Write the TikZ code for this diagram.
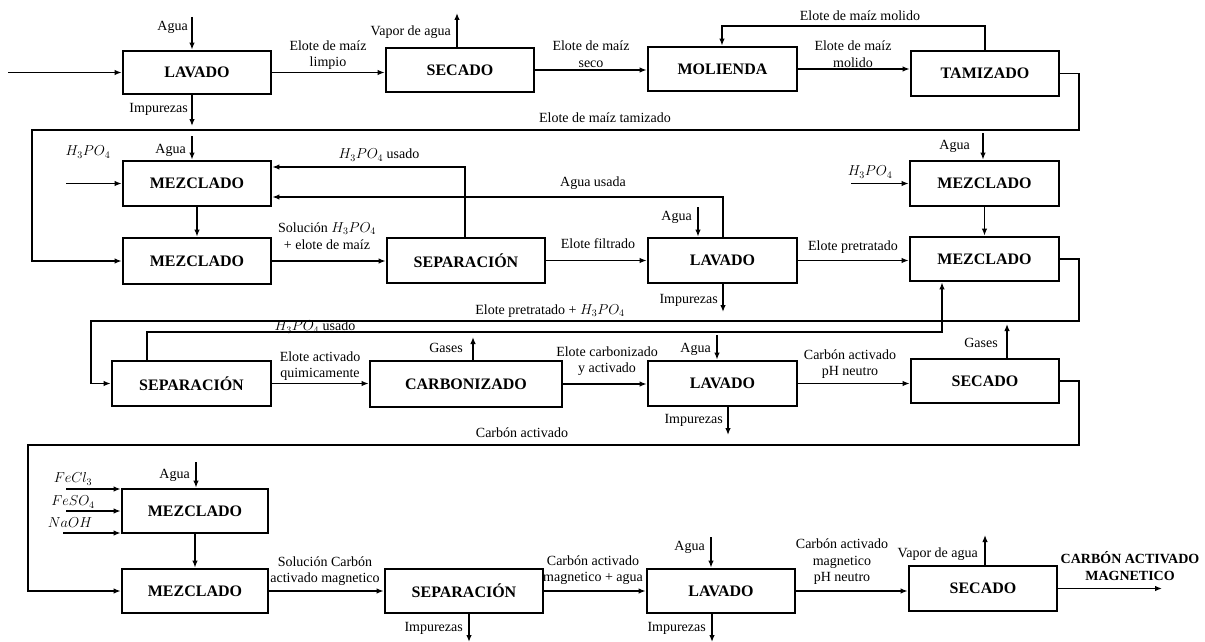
\documentclass[tikz,border=0pt]{standalone}
\usepackage{fontspec}
\setmainfont{Liberation Serif}
\usetikzlibrary{arrows.meta}
\tikzset{
  box/.style={draw, line width=2.8pt, font=\fontsize{16}{18}\selectfont\bfseries, inner sep=0pt},
  lbl/.style={font=\fontsize{14}{16.5}\selectfont, align=center, inner sep=0pt},
  lble/.style={lbl, anchor=east},
  arr/.style={line width=1.3pt, -{Latex[length=7pt,width=5.5pt]}},
}
\begin{document}
\begin{tikzpicture}[x=1pt,y=-1pt]
\useasboundingbox (0,0) rectangle (1205,642);
% boxes
\node[box, minimum width=148pt, minimum height=43pt] (L1) at (197,72.5) {LAVADO};
\node[box, minimum width=148pt, minimum height=44pt] (S1) at (460,70) {SECADO};
\node[box, minimum width=149pt, minimum height=44pt] (MO) at (722.5,69) {MOLIENDA};
\node[box, minimum width=148pt, minimum height=45pt] (TA) at (985,73.5) {TAMIZADO};
\node[box, minimum width=148pt, minimum height=45pt] (MA) at (197,183.5) {MEZCLADO};
\node[box, minimum width=148pt, minimum height=46pt] (MB) at (197,261) {MEZCLADO};
\node[box, minimum width=158pt, minimum height=45pt] (SP1) at (466,260.5) {SEPARACIÓN};
\node[box, minimum width=149pt, minimum height=45pt] (LA2) at (722.5,260.5) {LAVADO};
\node[box, minimum width=149pt, minimum height=45pt] (MC) at (984.5,183.5) {MEZCLADO};
\node[box, minimum width=149pt, minimum height=44pt] (MD) at (984.5,259) {MEZCLADO};
\node[box, minimum width=159pt, minimum height=45pt] (SP2) at (191.5,383.5) {SEPARACIÓN};
\node[box, minimum width=192pt, minimum height=46pt] (CA) at (466,384) {CARBONIZADO};
\node[box, minimum width=149pt, minimum height=45pt] (LA3) at (722.5,383.5) {LAVADO};
\node[box, minimum width=148pt, minimum height=44pt] (SE2) at (985,381) {SECADO};
\node[box, minimum width=146pt, minimum height=44pt] (ME) at (195,511) {MEZCLADO};
\node[box, minimum width=146pt, minimum height=44pt] (MF) at (195,591) {MEZCLADO};
\node[box, minimum width=158pt, minimum height=44pt] (SP3) at (464,591) {SEPARACIÓN};
\node[box, minimum width=148pt, minimum height=44pt] (LA4) at (721,591) {LAVADO};
\node[box, minimum width=148pt, minimum height=45pt] (SE3) at (983,588.5) {SECADO};

% ---------- row 1
\coordinate (in0) at (8,72.5);
\draw[arr] (in0) -- (L1.west);
\coordinate (a1) at (192,17);
\draw[arr] (a1) -- (a1 |- L1.north);
\node[lble] (ta1) at (188,27) {Agua};
\coordinate (i1) at (192,126);
\draw[arr] (i1 |- L1.south) -- (i1);
\node[lble] (ti1) at (188,109) {Impurezas};
\draw[arr] (L1.east) -- (S1.west |- L1.east);
\node[lbl] (t1) at (328,55) {Elote de maíz\\limpio};
\coordinate (v1) at (457,13);
\draw[arr] (v1 |- S1.north) -- (v1);
\node[lble] (tv1) at (451,32) {Vapor de agua};
\draw[arr] (S1.east) -- (MO.west |- S1.east);
\node[lbl] (t2) at (591,54) {Elote de maíz\\seco};
\draw[arr] (MO.east) -- (TA.west |- MO.east);
\node[lbl] (t3) at (853,54) {Elote de maíz\\molido};
\coordinate (fb1) at (722,26);
\draw[arr] (TA.north) |- (fb1) -- (fb1 |- MO.north);
\node[lbl] (t4) at (860,16) {Elote de maíz molido};
\coordinate (ta) at (1079,130);
\coordinate (tb) at (32,130);
\draw[arr] (TA.east) -| (ta) -- (tb) |- (MB.west);
\node[lbl] (t5) at (605,118) {Elote de maíz tamizado};

% ---------- row 2
\coordinate (a2) at (192,136);
\draw[arr] (a2) -- (a2 |- MA.north);
\node[lble] (ta2) at (186,150) {Agua};
\coordinate (h1) at (66,183.5);
\draw[arr] (h1) -- (MA.west);
\node[lbl] (th1) at (88,152) {$H_3PO_4$};
\draw[arr] (MA.south) -- (MB.north);
\draw[arr] (MB.east) -- (SP1.west |- MB.east);
\node[lbl] (t6) at (327,236) {Solución $H_3PO_4$\\+ elote de maíz};
\coordinate (u1) at (465,167);
\draw[arr] (u1 |- SP1.north) -- (u1) -- (u1 -| MA.east);
\node[lbl] (tu1) at (379,155) {$H_3PO_4$ usado};
\coordinate (u2) at (723,197);
\draw[arr] (u2 |- LA2.north) -- (u2) -- (u2 -| MA.east);
\node[lbl] (tu2) at (593,183) {Agua usada};
\draw[arr] (SP1.east) -- (LA2.west);
\node[lbl] (t7) at (598,244) {Elote filtrado};
\coordinate (a3) at (698,207);
\draw[arr] (a3) -- (a3 |- LA2.north);
\node[lble] (ta3) at (692,217) {Agua};
\coordinate (i2) at (723,312);
\draw[arr] (i2 |- LA2.south) -- (i2);
\node[lble] (ti2) at (718,300) {Impurezas};
\draw[arr] (LA2.east) -- (MD.west |- LA2.east);
\node[lbl] (t8) at (853,247) {Elote pretratado};
\coordinate (a4) at (983,133);
\draw[arr] (a4) -- (a4 |- MC.north);
\node[lble] (ta4) at (970,146) {Agua};
\coordinate (h2) at (851,183.5);
\draw[arr] (h2) -- (MC.west);
\node[lbl] (th2) at (870,172) {$H_3PO_4$};
\draw[arr] (MC.south) -- (MD.north);
\coordinate (d1) at (1079,321);
\coordinate (d2) at (91,321);
\draw[arr] (MD.east) -| (d1) -- (d2) |- (SP2.west);
\node[lbl] (t9) at (550,311) {Elote pretratado + $H_3PO_4$};
\coordinate (u3) at (147,332);
\coordinate (u4) at (942,332);
\draw[arr] (u3 |- SP2.north) -- (u3) -- (u4) -- (u4 |- MD.south);
\node[lbl] (tu3) at (315,327) {$H_3PO_4$ usado};

% ---------- row 3
\draw[arr] (SP2.east) -- (CA.west |- SP2.east);
\node[lbl] (t10) at (320,366) {Elote activado\\quimicamente};
\coordinate (g1) at (473,337);
\draw[arr] (g1 |- CA.north) -- (g1);
\node[lble] (tg1) at (463,348) {Gases};
\draw[arr] (CA.east) -- (LA3.west |- CA.east);
\node[lbl] (t11) at (607,361) {Elote carbonizado\\y activado};
\coordinate (a5) at (717,335);
\draw[arr] (a5) -- (a5 |- LA3.north);
\node[lble] (ta5) at (711,349) {Agua};
\coordinate (i3) at (728,435);
\draw[arr] (i3 |- LA3.south) -- (i3);
\node[lble] (ti3) at (723,420) {Impurezas};
\draw[arr] (LA3.east) -- (SE2.west |- LA3.east);
\node[lbl] (t12) at (850,364) {Carbón activado\\pH neutro};
\coordinate (g2) at (1007,324);
\draw[arr] (g2 |- SE2.north) -- (g2);
\node[lble] (tg2) at (998,343) {Gases};
\coordinate (s1) at (1079,445);
\coordinate (s2) at (28,445);
\draw[arr] (SE2.east) -| (s1) -- (s2) |- (MF.west);
\node[lbl] (t13) at (522,433) {Carbón activado};

% ---------- row 4
\coordinate (a6) at (196,462);
\draw[arr] (a6) -- (a6 |- ME.north);
\node[lble] (ta6) at (190,475) {Agua};
\coordinate (f1) at (66,489);
\draw[arr] (f1) -- (f1 -| ME.west);
\node[lbl] (tf1) at (73,479) {$FeCl_3$};
\coordinate (f2) at (66,511);
\draw[arr] (f2) -- (ME.west);
\node[lbl] (tf2) at (73,502) {$FeSO_4$};
\coordinate (f3) at (63,533);
\draw[arr] (f3) -- (f3 -| ME.west);
\node[lbl] (tf3) at (70,523) {$NaOH$};
\draw[arr] (ME.south) -- (MF.north);
\draw[arr] (MF.east) -- (SP3.west);
\node[lbl] (t14) at (325,571) {Solución Carbón\\activado magnetico};
\coordinate (i4) at (469,642);
\draw[arr] (i4 |- SP3.south) -- (i4);
\node[lble] (ti4) at (463,628) {Impurezas};
\draw[arr] (SP3.east) -- (LA4.west);
\node[lbl] (t15) at (593,570) {Carbón activado\\magnetico + agua};
\coordinate (a7) at (711,537);
\draw[arr] (a7) -- (a7 |- LA4.north);
\node[lble] (ta7) at (705,547) {Agua};
\coordinate (i5) at (712,642);
\draw[arr] (i5 |- LA4.south) -- (i5);
\node[lble] (ti5) at (706,628) {Impurezas};
\draw[arr] (LA4.east) -- (SE3.west |- LA4.east);
\node[lbl] (t16) at (842,562) {Carbón activado\\magnetico\\pH neutro};
\coordinate (v2) at (985,535);
\draw[arr] (v2 |- SE3.north) -- (v2);
\node[lble] (tv2) at (978,554) {Vapor de agua};
\coordinate (o1) at (1162,588.5);
\draw[arr] (SE3.east) -- (o1);
\node[lbl, font=\fontsize{14}{16.5}\selectfont\bfseries] (t17) at (1130,566) {CARBÓN ACTIVADO\\MAGNETICO};
\end{tikzpicture}
\end{document}
